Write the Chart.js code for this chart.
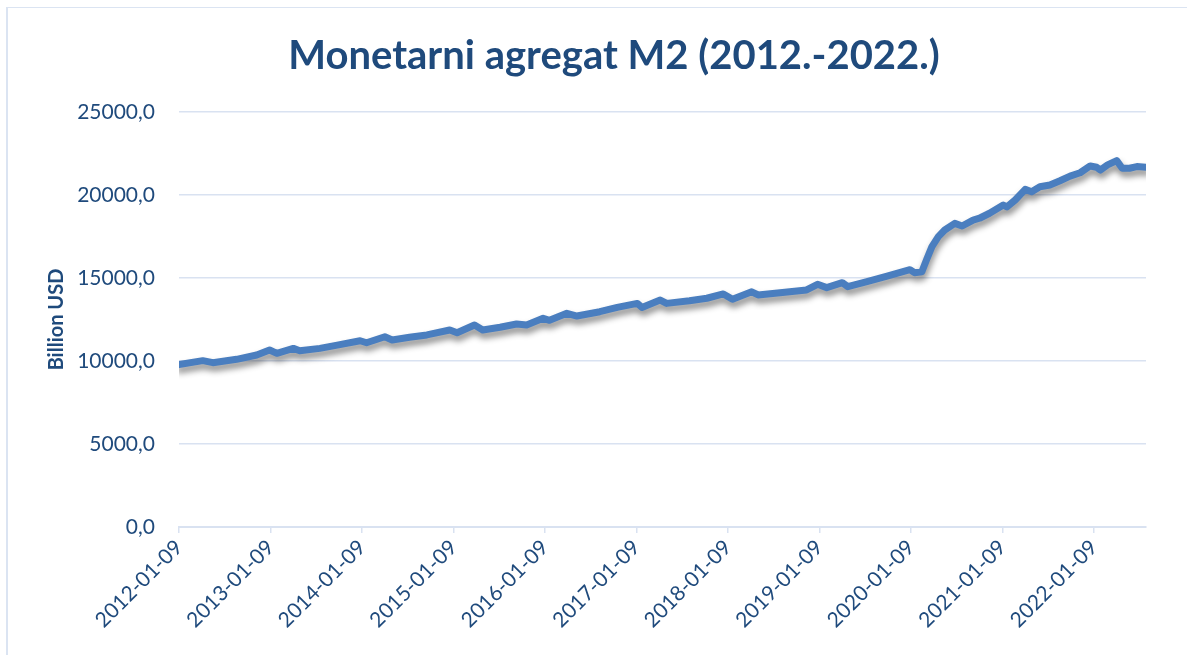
<!DOCTYPE html>
<html>
<head>
<meta charset="utf-8">
<script src="https://cdn.jsdelivr.net/npm/chart.js@4.4.1/dist/chart.umd.min.js"></script>
<style>
  html, body { margin: 0; padding: 0; background: #fff; }
  #wrap { position: relative; width: 1187px; height: 655px; overflow: hidden; }
  #frame { position: absolute; left: 6px; top: 7px; width: 1300px; height: 700px;
           border-left: 2px solid #dbe4f2; border-top: 1px solid #dbe4f2; }
  #m2Chart { position: absolute; left: 0; top: 0; }
</style>
</head>
<body>
<div id="wrap">
  <div id="frame"></div>
  <canvas id="m2Chart" width="1187" height="655"></canvas>
</div>
<script>
// Podaci očitani sa slike: vrijeme u godinama od 2012-01-09, M2 u milijardama USD
const yearsSince2012 = [
  0.00, 0.26, 0.37, 0.63, 0.85, 0.99, 1.07, 1.25, 1.32, 1.54, 1.73, 1.98, 2.05,
  2.25, 2.33, 2.52, 2.71, 2.96, 3.04, 3.23, 3.32, 3.51, 3.69, 3.80, 3.98, 4.05,
  4.24, 4.35, 4.60, 4.79, 5.01, 5.06, 5.26, 5.33, 5.58, 5.77, 5.95, 6.05, 6.26,
  6.33, 6.57, 6.86, 6.98, 7.08, 7.25, 7.31, 7.52, 7.74, 7.99, 8.04, 8.12, 8.17,
  8.23, 8.30, 8.37, 8.48, 8.56, 8.68, 8.75, 8.86, 9.01, 9.05, 9.14, 9.25, 9.32,
  9.41, 9.52, 9.63, 9.74, 9.85, 9.96, 10.03, 10.07, 10.15, 10.25, 10.31, 10.39,
  10.47, 10.57
];
const m2Billions = [
  9780, 10020, 9900, 10100, 10360, 10660, 10460, 10760, 10620, 10760, 10960, 11220, 11100,
  11460, 11270, 11430, 11570, 11870, 11700, 12170, 11870, 12030, 12230, 12170, 12570, 12450,
  12870, 12710, 12970, 13230, 13470, 13230, 13670, 13470, 13630, 13780, 14040, 13720, 14170,
  13980, 14110, 14280, 14620, 14420, 14720, 14480, 14780, 15120, 15500, 15320, 15380, 16080,
  16890, 17490, 17890, 18290, 18130, 18490, 18600, 18900, 19400, 19280, 19700, 20340, 20200,
  20500, 20600, 20860, 21140, 21340, 21750, 21670, 21500, 21810, 22070, 21610, 21610,
  21710, 21670
];
const tickYears = [0, 1, 2, 3, 4, 5, 6, 7, 8, 9, 10];
const tickLabels = ['2012-01-09', '2013-01-09', '2014-01-09', '2015-01-09', '2016-01-09',
  '2017-01-09', '2018-01-09', '2019-01-09', '2020-01-09', '2021-01-09', '2022-01-09'];

const textColor = '#1f4a7c';
const gridColor = '#d9e2f1';

// sjena ispod linije (kao u Excelu)
const lineShadow = {
  id: 'lineShadow',
  beforeDatasetDraw(chart) {
    const ctx = chart.ctx;
    ctx.save();
    ctx.shadowColor = 'rgba(0, 0, 0, 0.45)';
    ctx.shadowBlur = 6;
    ctx.shadowOffsetX = 1;
    ctx.shadowOffsetY = 5;
  },
  afterDatasetDraw(chart) {
    chart.ctx.restore();
  }
};

// naslov grafikona
const chartTitle = {
  id: 'chartTitle',
  afterDraw(chart) {
    const ctx = chart.ctx;
    ctx.save();
    ctx.fillStyle = textColor;
    ctx.font = 'bold 40px Lato';
    ctx.textAlign = 'center';
    ctx.textBaseline = 'middle';
    ctx.fillText('Monetarni agregat M2 (2012.-2022.)', 614, 56);
    ctx.restore();
  }
};

const ctx = document.getElementById('m2Chart').getContext('2d');
new Chart(ctx, {
  type: 'line',
  data: {
    datasets: [{
      label: 'M2',
      data: yearsSince2012.map((t, i) => ({ x: t, y: m2Billions[i] })),
      borderColor: '#4a7ebf',
      borderWidth: 7,
      borderJoinStyle: 'round',
      borderCapStyle: 'round',
      pointRadius: 0,
      tension: 0,
      fill: false
    }]
  },
  options: {
    responsive: false,
    animation: false,
    layout: { padding: { left: 0, right: 41, top: 112, bottom: 0 } },
    plugins: {
      legend: { display: false },
      title: { display: false },
      tooltip: { enabled: false }
    },
    scales: {
      x: {
        type: 'linear',
        min: 0,
        max: yearsSince2012[yearsSince2012.length - 1],
        afterFit: s => { s.height = 128; },
        afterBuildTicks: s => { s.ticks = tickYears.map(v => ({ value: v })); },
        grid: { drawOnChartArea: false, drawTicks: true, tickLength: 6, color: gridColor, lineWidth: 1.5 },
        border: { color: gridColor, width: 2 },
        ticks: {
          autoSkip: false,
          maxRotation: 45,
          minRotation: 45,
          padding: 2,
          color: textColor,
          font: { family: 'Lato', size: 21 },
          callback: v => tickLabels[tickYears.indexOf(v)]
        }
      },
      y: {
        min: 0,
        max: 25000,
        afterFit: s => { s.width = 179; },
        grid: { color: gridColor, lineWidth: 1.5, drawTicks: false },
        border: { display: false },
        ticks: {
          stepSize: 5000,
          padding: 24,
          color: textColor,
          font: { family: 'Lato', size: 21 },
          callback: v => v.toFixed(1).replace('.', ',')
        },
        title: {
          display: true,
          text: 'Billion USD',
          color: textColor,
          font: { family: 'Lato', size: 20, weight: 'bold' },
          padding: { top: 45 }
        }
      }
    }
  },
  plugins: [lineShadow, chartTitle]
});
</script>
</body>
</html>
